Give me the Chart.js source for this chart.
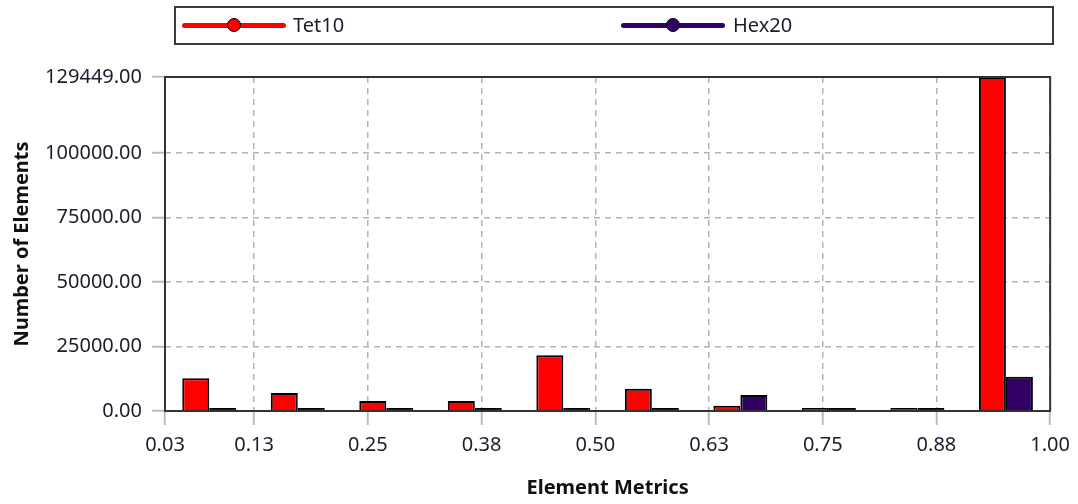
<!DOCTYPE html>
<html>
<head>
<meta charset="utf-8">
<script src="https://cdn.jsdelivr.net/npm/chart.js@4/dist/chart.umd.min.js"></script>
<style>
    html, body { margin: 0; padding: 0; background: #fff; }
    #wrap { position: relative; width: 1078px; height: 504px; font-family: 'Noto Sans', sans-serif; }
    #chart { position: absolute; left: 0; top: 0; }
    #legend { position: absolute; left: 174px; top: 6px; width: 880px; height: 39px; box-sizing: border-box; border: 2px solid #3a3a3a; }
    .lg-line { position: absolute; height: 5px; border-radius: 3px; top: 23px; }
    .lg-dot { position: absolute; width: 12px; height: 12px; border-radius: 50%; border: 1.5px solid #000; top: 18px; }
    .lg-text { position: absolute; top: 11px; font-size: 20px; line-height: 28px; color: #1c1c2c; }
</style>
</head>
<body>
<div id="wrap">
    <canvas id="chart" width="1078" height="504"></canvas>
    <div id="legend"></div>
    <div id="legendItems"></div>
</div>
<script>
// bins of the element quality histogram (bin centres)
const binCenters = ['0.076', '0.173', '0.270', '0.368', '0.465', '0.562', '0.659', '0.757', '0.854', '0.951'];
const tet10 = [12700, 7000, 3900, 3900, 21600, 8600, 2000, 1200, 1200, 129449];
const hex20 = [1200, 1200, 1200, 1200, 1200, 1200, 6200, 1200, 1200, 13300];

const xTickValues = [0.027, 0.125, 0.25, 0.375, 0.5, 0.625, 0.75, 0.875, 1.0];
const xTickLabels = ['0.03', '0.13', '0.25', '0.38', '0.50', '0.63', '0.75', '0.88', '1.00'];
const yTickValues = [0, 25000, 50000, 75000, 100000, 129449];

const seriesNames = ['Tet10', 'Hex20'];
const seriesColors = ['#ff0000', '#330066'];

// legend drawn in html, like the boxed legend in the original
const legendItems = document.getElementById('legendItems');
const legendPos = [{ line: 182, text: 293 }, { line: 621, text: 733 }];
seriesNames.forEach((name, i) => {
    const p = legendPos[i];
    legendItems.insertAdjacentHTML('beforeend', `
        <div class="lg-line" style="left:${p.line}px;width:104px;background:${seriesColors[i]}"></div>
        <div class="lg-dot" style="left:${p.line + 45}px;background:${seriesColors[i]}"></div>
        <div class="lg-text" style="left:${p.text}px">${name}</div>
    `);
});

const plotFrame = {
    id: 'plotFrame',
    afterDatasetsDraw(chart) {
        const { ctx, chartArea: a } = chart;
        ctx.save();
        ctx.strokeStyle = '#333';
        ctx.lineWidth = 2;
        ctx.strokeRect(a.left, a.top, a.right - a.left, a.bottom - a.top);
        ctx.restore();
    }
};

Chart.defaults.font.family = "'Noto Sans', sans-serif";
Chart.defaults.font.size = 20;
Chart.defaults.color = '#1c1c2c';

new Chart(document.getElementById('chart'), {
    type: 'bar',
    data: {
        labels: binCenters,
        datasets: [
            { label: seriesNames[0], data: tet10, backgroundColor: seriesColors[0], borderColor: '#000', borderWidth: 2 },
            { label: seriesNames[1], data: hex20, backgroundColor: seriesColors[1], borderColor: '#000', borderWidth: 2 }
        ]
    },
    options: {
        responsive: false,
        animation: false,
        layout: { padding: { top: 77, left: 0, right: 26, bottom: 0 } },
        datasets: { bar: { categoryPercentage: 0.61, barPercentage: 1.0 } },
        plugins: { legend: { display: false }, tooltip: { enabled: false } },
        scales: {
            x: { display: false },
            x2: {
                type: 'linear',
                position: 'bottom',
                offset: false,
                min: xTickValues[0],
                max: xTickValues[xTickValues.length - 1],
                afterBuildTicks: (scale) => { scale.ticks = xTickValues.map(v => ({ value: v })); },
                afterFit: (scale) => { scale.height = 93; },
                ticks: {
                    padding: 8,
                    maxRotation: 0,
                    autoSkip: false,
                    callback: (v, i) => xTickLabels[i]
                },
                grid: { offset: false, color: '#b4b4b4', lineWidth: 1.5, tickLength: 14, tickColor: '#bcbcbc', tickWidth: 2, tickBorderDash: [] },
                border: { display: false, dash: [6, 5] },
                title: { display: true, text: 'Element Metrics', font: { size: 20, weight: 'bold' }, color: '#111', padding: { top: 0, bottom: 4 } }
            },
            y: {
                min: 0,
                max: yTickValues[yTickValues.length - 1],
                afterBuildTicks: (scale) => { scale.ticks = yTickValues.map(v => ({ value: v })); },
                afterFit: (scale) => { scale.width = 165; },
                ticks: { padding: 10, callback: (v) => Number(v).toFixed(2) },
                grid: { color: '#b4b4b4', lineWidth: 1.5, tickLength: 13, tickColor: '#bcbcbc', tickWidth: 2, tickBorderDash: [] },
                border: { display: false, dash: [6, 5] },
                title: { display: true, text: 'Number of Elements', font: { size: 20, weight: 'bold' }, color: '#111', padding: { top: 10, bottom: 0 } }
            }
        }
    },
    plugins: [plotFrame]
});
</script>
</body>
</html>
